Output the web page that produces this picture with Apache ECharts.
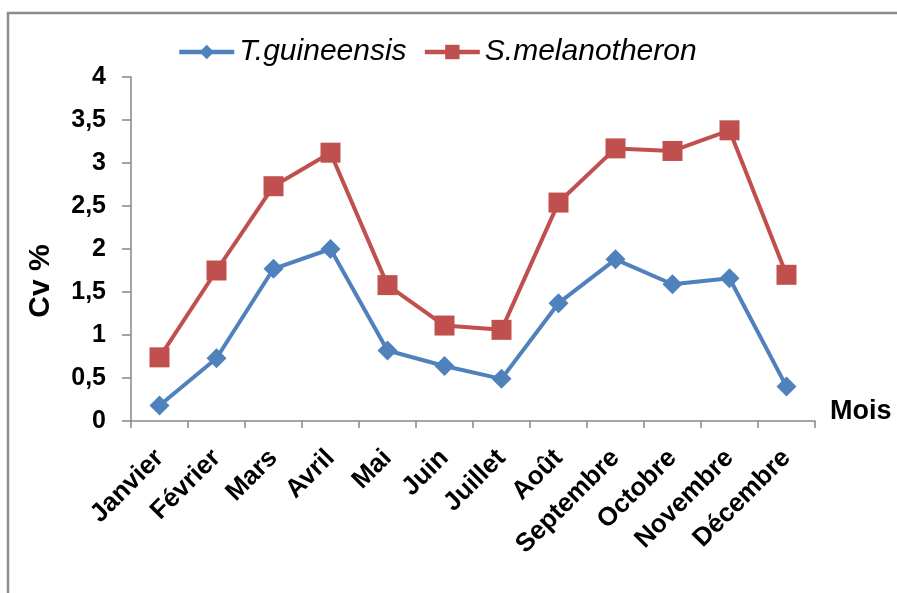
<!DOCTYPE html>
<html>
<head>
<meta charset="utf-8">
<script src="https://cdn.jsdelivr.net/npm/echarts@6/dist/echarts.min.js"></script>
<style>
  html, body { margin: 0; padding: 0; background: #fff; }
  #chart { width: 897px; height: 593px; }
</style>
</head>
<body>
<div id="chart"></div>
<script>
const months = ['Janvier', 'Février', 'Mars', 'Avril', 'Mai', 'Juin', 'Juillet', 'Août', 'Septembre', 'Octobre', 'Novembre', 'Décembre'];
const guineensis = [0.18, 0.73, 1.77, 2.0, 0.82, 0.64, 0.49, 1.37, 1.88, 1.59, 1.66, 0.40];
const melanotheron = [0.74, 1.75, 2.73, 3.12, 1.58, 1.11, 1.06, 2.54, 3.17, 3.14, 3.38, 1.70];
const yTicks = { min: 0, max: 4, step: 0.5 };

const FONT = '"Liberation Sans", Arial, sans-serif';
const BLUE = '#4F81BD';
const RED = '#C0504D';
const AXIS = '#868686';

const chart = echarts.init(document.getElementById('chart'), null, { renderer: 'canvas' });

chart.setOption({
  backgroundColor: '#fff',
  animation: false,
  textStyle: { fontFamily: FONT },
  graphic: [
    {
      type: 'rect',
      shape: { x: 8, y: 13, width: 1000, height: 1000 },
      style: { fill: 'none', stroke: '#8c8c8c', lineWidth: 2.5 }
    },
    {
      type: 'text',
      x: 41,
      y: 281,
      rotation: Math.PI / 2,
      style: {
        text: 'Cv %',
        fontFamily: FONT,
        fontSize: 30,
        fontWeight: 'bold',
        fill: '#000',
        align: 'center',
        verticalAlign: 'middle'
      }
    }
  ],
  legend: {
    left: 177,
    top: 37,
    padding: 0,
    itemWidth: 55,
    itemHeight: 18,
    itemGap: 16,
    lineStyle: { width: 4.5 },
    textStyle: { fontFamily: FONT, fontSize: 30, fontStyle: 'italic', color: '#000' },
    data: ['T.guineensis', 'S.melanotheron']
  },
  grid: { left: 131, right: 82, top: 77, bottom: 172, containLabel: false },
  xAxis: {
    type: 'category',
    data: months,
    boundaryGap: true,
    name: 'Mois',
    nameLocation: 'end',
    nameGap: 15,
    nameTextStyle: {
      fontFamily: FONT, fontSize: 27, fontWeight: 'bold', color: '#000',
      verticalAlign: 'bottom', padding: [0, 0, -4, 0]
    },
    axisLine: { lineStyle: { color: AXIS, width: 1.5 } },
    axisTick: { show: true, length: 7, inside: false, alignWithLabel: false, lineStyle: { color: AXIS, width: 1.5 } },
    axisLabel: {
      interval: 0,
      rotate: 45,
      margin: 33,
      fontFamily: FONT,
      fontSize: 26,
      fontWeight: 'bold',
      color: '#000'
    },
    splitLine: { show: false }
  },
  yAxis: {
    type: 'value',
    min: yTicks.min,
    max: yTicks.max,
    interval: yTicks.step,
    axisLine: { show: true, lineStyle: { color: AXIS, width: 1.5 } },
    axisTick: { show: true, length: 9, lineStyle: { color: AXIS, width: 1.5 } },
    axisLabel: {
      margin: 25,
      fontFamily: FONT,
      fontSize: 25,
      fontWeight: 'bold',
      color: '#000',
      formatter: v => String(v).replace('.', ',')
    },
    splitLine: { show: false }
  },
  series: [
    {
      name: 'T.guineensis',
      type: 'line',
      data: guineensis,
      symbol: 'diamond',
      symbolSize: 20,
      lineStyle: { color: BLUE, width: 4 },
      itemStyle: { color: BLUE },
      z: 3
    },
    {
      name: 'S.melanotheron',
      type: 'line',
      data: melanotheron,
      symbol: 'rect',
      symbolSize: 20,
      lineStyle: { color: RED, width: 4 },
      itemStyle: { color: RED },
      z: 2
    }
  ]
});
</script>
</body>
</html>
